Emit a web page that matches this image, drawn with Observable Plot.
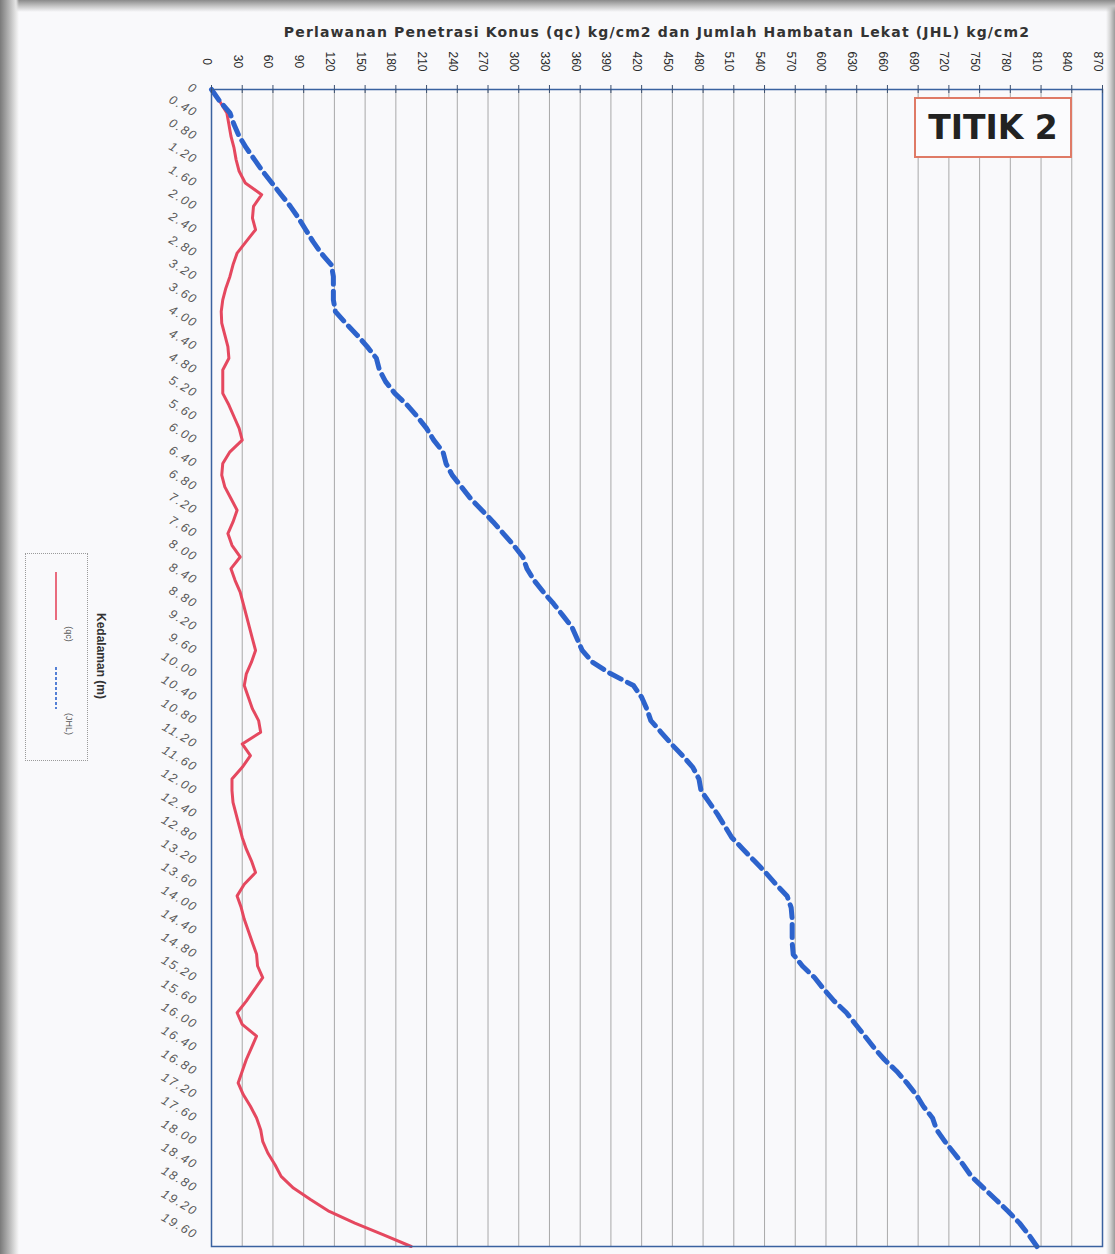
<!DOCTYPE html>
<html>
<head>
<meta charset="utf-8">
<script src="https://cdn.jsdelivr.net/npm/d3@7"></script>
<script src="https://cdn.jsdelivr.net/npm/@observablehq/plot@0.6"></script>
<style>
  html, body { margin: 0; padding: 0; }
  body {
    width: 1115px; height: 1254px; overflow: hidden; position: relative;
    background:
      linear-gradient(to right, #7a7a7a 0px, #b5b5b5 9px, #e6e6e6 16px, rgba(255,255,255,0) 19px),
      linear-gradient(to bottom, #8a8a8a 0px, #c4c4c4 6px, rgba(255,255,255,0) 12px),
      linear-gradient(to left, #9a9a9a 0px, #d6d6d6 5px, rgba(255,255,255,0) 9px),
      #f9f9fb;
  }
  #chart { position: absolute; left: 0; top: 0; }
  #titik {
    position: absolute; left: 914px; top: 97px; width: 154px; height: 57px;
    border: 2.5px solid #df7a66; background: #fbfbfd;
    font: bold 33px "DejaVu Sans", sans-serif; color: #222;
    display: flex; align-items: center; justify-content: center;
  }
  #legend { position: absolute; left: 25px; top: 553px; width: 61px; height: 206px;
    border: 1px dotted #9a9a9a; }
</style>
</head>
<body>
<div id="chart"></div>
<div id="titik">TITIK 2</div>
<div id="legend">
  <svg width="61" height="206">
    <line x1="30" x2="30" y1="18" y2="66" stroke="#e5485f" stroke-width="1.6"/>
    <text transform="translate(42,80) rotate(90)" text-anchor="middle" dominant-baseline="middle"
      font-family="Liberation Sans, Arial, sans-serif" font-size="9" fill="#555">(qc)</text>
    <line x1="30" x2="30" y1="113" y2="155" stroke="#2d63cc" stroke-width="1.6" stroke-dasharray="3,2"/>
    <text transform="translate(42,170) rotate(90)" text-anchor="middle" dominant-baseline="middle"
      font-family="Liberation Sans, Arial, sans-serif" font-size="9" fill="#555">(JHL)</text>
  </svg>
</div>
<script>
// ---- data ----
const title = "Perlawanan Penetrasi Konus (qc) kg/cm2 dan Jumlah Hambatan Lekat (JHL) kg/cm2";
const yTitle = "Kedalaman (m)";
const xTicks = [0,30,60,90,120,150,180,210,240,270,300,330,360,390,420,450,480,510,540,570,600,630,660,690,720,750,780,810,840,870];
const yTicks = [0,0.4,0.8,1.2,1.6,2.0,2.4,2.8,3.2,3.6,4.0,4.4,4.8,5.2,5.6,6.0,6.4,6.8,7.2,7.6,8.0,8.4,8.8,9.2,9.6,10.0,10.4,10.8,11.2,11.6,12.0,12.4,12.8,13.2,13.6,14.0,14.4,14.8,15.2,15.6,16.0,16.4,16.8,17.2,17.6,18.0,18.4,18.8,19.2,19.6];
const depth = [0,0.2,0.4,0.6,0.8,1.0,1.2,1.4,1.6,1.8,2.0,2.2,2.4,2.6,2.8,3.0,3.2,3.4,3.6,3.8,
  4.0,4.2,4.4,4.6,4.8,5.0,5.2,5.4,5.6,5.8,6.0,6.2,6.4,6.6,6.8,7.0,7.2,7.4,7.6,7.8,
  8.0,8.2,8.4,8.6,8.8,9.0,9.2,9.4,9.6,9.8,10.0,10.2,10.4,10.6,10.8,11.0,11.2,11.4,11.6,11.8,
  12.0,12.2,12.4,12.6,12.8,13.0,13.2,13.4,13.6,13.8,14.0,14.2,14.4,14.6,14.8,15.0,15.2,15.4,15.6,15.8,
  16.0,16.2,16.4,16.6,16.8,17.0,17.2,17.4,17.6,17.8,18.0,18.2,18.4,18.6,18.8,19.0,19.2,19.4,19.6,19.8];
const qc = [0,8,15,17,19,22,24,27,33,49,
  41,40,43,34,25,21,18,14,11,9.5,
  10,13,16,17,11,11,11,17,22,27,
  30,18,11,10,13,19,25,21,16,20,
  28,19,23,28,31,34,37,40,43,39,
  34,32,36,40,46,48,30,38,30,20,
  20,21,24,27,30,34,39,43,32,25,
  29,32,36,40,44,45,50,42,34,25,
  30,44,39,34,30,26,31,38,44,48,
  50,55,62,68,80,97,115,140,168,195];
const jhl = [0,8,18,22,27,34,42,50,59,68,
  77,85,92,99,107,117,119,119,119,121,
  131,142,152,161,164,170,179,191,201,210,
  217,226,229,235,244,253,264,275,285,295,
  304,308,315,324,334,343,352,357,362,372,
  390,412,420,425,429,439,449,460,470,476,
  478,486,494,501,508,519,530,541,551,562,
  566,567,567,567,568,577,589,598,608,620,
  629,638,647,657,669,679,688,695,704,708,
  716,725,734,742,754,766,778,789,798,806];

const rows = depth.map((d, i) => ({depth: d, qc: qc[i], jhl: jhl[i]}));
const fmtDepth = d => d === 0 ? "0" : d.toFixed(2);

const chart = Plot.plot({
  width: 1115,
  height: 1254,
  marginLeft: 211,
  marginRight: 13,
  marginTop: 89,
  marginBottom: 8,
  style: {background: "transparent", overflow: "visible"},
  x: {domain: [0, 870], axis: null},
  y: {domain: [0, 19.8], reverse: true, axis: null},
  marks: [
    Plot.gridX(xTicks.filter(d => d > 0 && d < 870), {stroke: "#959595", strokeOpacity: 0.8, strokeWidth: 1}),
    Plot.line(rows, {x: "qc", y: "depth", stroke: "#e5485f", strokeWidth: 3, curve: "linear"}),
    Plot.line(rows, {x: "jhl", y: "depth", stroke: "#2d63cc", strokeWidth: 5, strokeDasharray: "13,7", curve: "linear"}),
    Plot.frame({stroke: "#3a62a0", strokeWidth: 1.5}),
    Plot.tickX(xTicks, {x: d => d, insetTop: -4, insetBottom: 1153, stroke: "#3a4f70", strokeWidth: 1}),
    Plot.text(xTicks, {x: d => d, frameAnchor: "top", dy: -28, rotate: 90, text: d => String(d),
      fontSize: 12, fill: "#2a2a2a", fontFamily: "Liberation Sans, Arial, sans-serif"}),
    Plot.text(yTicks, {y: d => d, frameAnchor: "left", dx: -15, dy: 1, rotate: 30, textAnchor: "end",
      text: fmtDepth, fontSize: 12.5, fontStyle: "italic", fill: "#5a5a5a",
      fontFamily: "Liberation Sans, Arial, sans-serif"}),
    Plot.text([title], {frameAnchor: "top", dy: -62, text: d => d, fontSize: 14, fontWeight: "bold",
      fill: "#333", fontFamily: "DejaVu Sans, sans-serif"}),
    Plot.text([yTitle], {frameAnchor: "left", dx: -111, dy: -12, rotate: 90, textAnchor: "middle",
      text: d => d, fontSize: 12, fontWeight: "bold", fill: "#333",
      fontFamily: "Liberation Sans, Arial, sans-serif"})
  ]
});
document.getElementById("chart").appendChild(chart);

// text spacing tweaks (styling only)
d3.select(chart).selectAll("text").each(function() {
  const t = this.textContent;
  if (t === title) d3.select(this).style("letter-spacing", "1.15px");
});
d3.select(chart).selectAll('g[aria-label="text"]').each(function() {
  const texts = this.querySelectorAll("text");
  if (texts.length === yTicks.length && texts[1] && texts[1].textContent === "0.40") {
    d3.select(this).selectAll("text").style("letter-spacing", "1.6px");
  }
});
</script>
</body>
</html>
